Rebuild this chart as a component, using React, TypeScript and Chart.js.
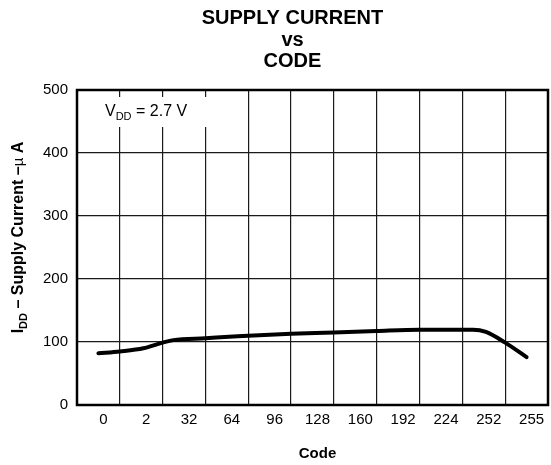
import React, { useEffect, useRef } from "react";
import { Chart, registerables } from "chart.js";

Chart.register(...registerables);

// ---- data ----
const codeLabels = ["0", "2", "32", "64", "96", "128", "160", "192", "224", "252", "255"];
// position along the code axis (in label-slot units) and supply current (µA)
const curvePos = [0, 0.5, 1.05, 1.5, 1.75, 2.5, 3.25, 4.5, 5.5, 6.5, 7.5, 8.75, 9.05, 9.5, 10];
const curveCurrent = [82, 85, 90, 99, 103, 106, 109, 113, 115, 117.5, 119.5, 119.5, 116, 99, 76];
const yMin = 0;
const yMax = 500;
const yStep = 100;
const titleLines = ["SUPPLY CURRENT", "vs", "CODE"];
const xTitle = "Code";
const yTitleParts = ["I", "DD", " \u2013 Supply Current \u2013", "\u00B5", " A"];
const annotationParts = ["V", "DD", " = 2.7 V"];

const FONT = "'Liberation Sans', Arial, Helvetica, sans-serif";

const decorPlugin = {
  id: "decor",
  beforeDatasetsDraw(chart: any) {
    const { ctx, chartArea } = chart;
    const a = chartArea;
    ctx.save();
    // annotation box
    ctx.fillStyle = "#fff";
    ctx.fillRect(a.left + 1.5, a.top + 7, 148, 30);
    ctx.fillStyle = "#000";
    ctx.textBaseline = "alphabetic";
    ctx.textAlign = "left";
    let x = a.left + 28;
    const by = a.top + 26;
    ctx.font = `16px ${FONT}`;
    ctx.fillText(annotationParts[0], x, by);
    x += ctx.measureText(annotationParts[0]).width;
    ctx.font = `11px ${FONT}`;
    ctx.fillText(annotationParts[1], x, by + 4);
    x += ctx.measureText(annotationParts[1]).width;
    ctx.font = `16px ${FONT}`;
    ctx.fillText(annotationParts[2], x, by);
    ctx.restore();
  },
  afterDatasetsDraw(chart: any) {
    const { ctx, chartArea } = chart;
    const a = chartArea;
    ctx.save();
    // frame
    ctx.strokeStyle = "#000";
    ctx.lineWidth = 2.5;
    ctx.strokeRect(a.left, a.top, a.right - a.left, a.bottom - a.top);

    // title
    ctx.fillStyle = "#000";
    ctx.textAlign = "center";
    ctx.textBaseline = "alphabetic";
    ctx.font = `bold 20px ${FONT}`;
    const tx = (a.left + a.right) / 2 - 20;
    titleLines.forEach((t, i) => ctx.fillText(t, tx, 24 + i * 21.5));

    // x title
    ctx.font = `bold 15px ${FONT}`;
    ctx.textBaseline = "middle";
    ctx.fillText(xTitle, (a.left + a.right) / 2 + 5, 454);

    // y title (rotated with subscript)
    ctx.translate(23, (a.top + a.bottom) / 2 - 10);
    ctx.rotate(-Math.PI / 2);
    ctx.textAlign = "left";
    ctx.textBaseline = "alphabetic";
    const fonts = [
      `bold 16px ${FONT}`,
      `bold 11px ${FONT}`,
      `bold 16px ${FONT}`,
      `15px ${FONT}`,
      `bold 16px ${FONT}`,
    ];
    const offs = [0, 4, 0, 0, 0];
    let total = 0;
    yTitleParts.forEach((p, i) => {
      ctx.font = fonts[i];
      total += ctx.measureText(p).width;
    });
    let x = -total / 2;
    yTitleParts.forEach((p, i) => {
      ctx.font = fonts[i];
      ctx.fillText(p, x, offs[i]);
      x += ctx.measureText(p).width;
    });
    ctx.restore();
  },
};

export default function App() {
  const ref = useRef<HTMLCanvasElement>(null);
  useEffect(() => {
    if (!ref.current) return;
    const chart = new Chart(ref.current, {
      type: "line",
      data: {
        labels: codeLabels,
        datasets: [
          {
            data: curvePos.map((p, i) => ({ x: p, y: curveCurrent[i] })),
            xAxisID: "xd",
            yAxisID: "y",
            borderColor: "#000",
            borderWidth: 4,
            pointRadius: 0,
            cubicInterpolationMode: "monotone",
            borderCapStyle: "round",
            borderJoinStyle: "round",
            fill: false,
          },
        ],
      },
      options: {
        responsive: false,
        animation: false,
        layout: { padding: { top: 90, right: 3, left: 0, bottom: 0 } },
        plugins: {
          legend: { display: false },
          title: { display: false },
          tooltip: { enabled: false },
        },
        scales: {
          x: {
            type: "category",
            offset: true,
            grid: { offset: true, color: "#1a1a1a", lineWidth: 1.2, drawTicks: false },
            border: { display: false },
            ticks: {
              color: "#000",
              font: { family: FONT, size: 15 },
              padding: 6,
              labelOffset: 5,
              maxRotation: 0,
              autoSkip: false,
            },
            afterFit: (s: any) => {
              s.height = 60;
            },
          },
          xd: {
            type: "linear",
            display: false,
            min: -0.5,
            max: 10.5,
          },
          y: {
            type: "linear",
            min: yMin,
            max: yMax,
            grid: { color: "#1a1a1a", lineWidth: 1.2, drawTicks: false },
            border: { display: false },
            ticks: {
              stepSize: yStep,
              color: "#000",
              font: { family: FONT, size: 15 },
              padding: 9,
            },
            afterFit: (s: any) => {
              s.width = 77;
            },
          },
        },
      },
      plugins: [decorPlugin],
    });
    return () => chart.destroy();
  }, []);
  return (
    <div style={{ position: "absolute", left: 0, top: 0, width: 551, height: 465, background: "#fff" }}>
      <canvas ref={ref} width={551} height={465} />
    </div>
  );
}
